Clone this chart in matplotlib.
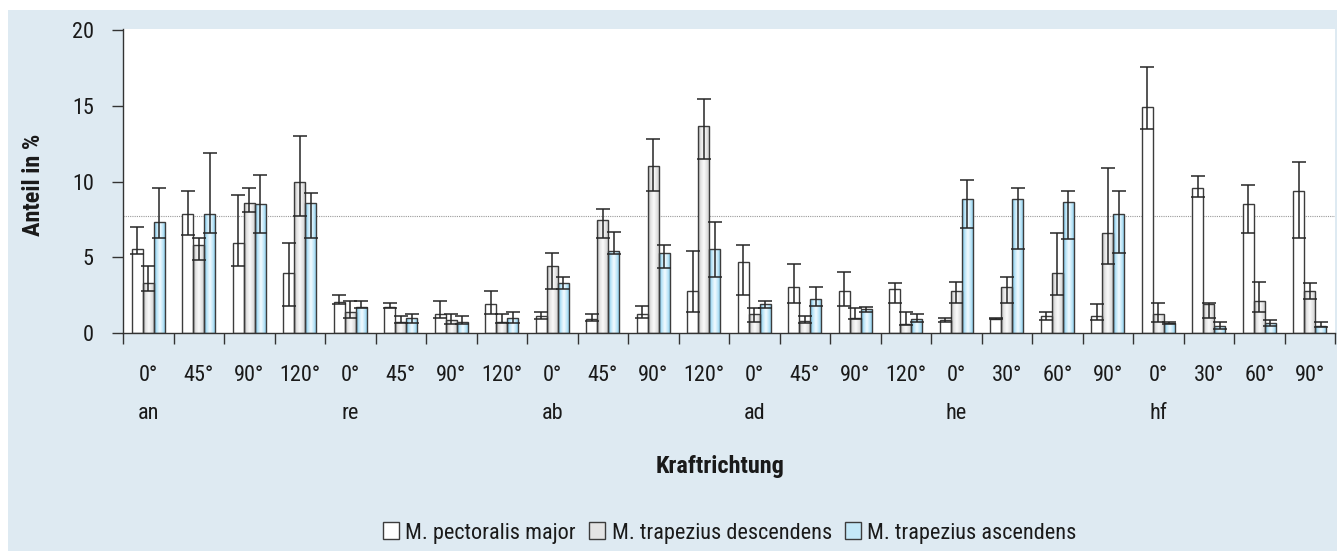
import matplotlib

matplotlib.use("Agg")
import matplotlib.pyplot as plt
import numpy as np
from matplotlib import font_manager
from matplotlib.colors import LinearSegmentedColormap
from matplotlib.patches import Patch, Rectangle


DIRECTIONS = ["an", "re", "ab", "ad", "he", "hf"]
ANGLES = [
    "0°", "45°", "90°", "120°",
    "0°", "45°", "90°", "120°",
    "0°", "45°", "90°", "120°",
    "0°", "45°", "90°", "120°",
    "0°", "30°", "60°", "90°",
    "0°", "30°", "60°", "90°",
]
SERIES = ["M. pectoralis major", "M. trapezius descendens", "M. trapezius ascendens"]

# bar value, lower and upper end of the error bar
PECT = [5.55, 7.83, 5.94, 3.94, 2.07, 1.74, 1.25, 1.89, 1.1, 0.95, 1.25, 2.77,
        4.66, 3.04, 2.77, 2.9, 0.85, 0.95, 1.12, 1.12, 14.94, 9.6, 8.49, 9.35]
PECT_LO = [5.19, 6.45, 4.4, 1.78, 1.9, 1.63, 1.0, 1.25, 0.9, 0.82, 1.0, 1.37,
           2.53, 2.0, 1.78, 2.0, 0.75, 0.9, 0.86, 0.86, 13.44, 9.0, 6.58, 6.3]
PECT_HI = [6.98, 9.35, 9.1, 5.94, 2.5, 2.0, 2.13, 2.77, 1.37, 1.25, 1.78, 5.43,
           5.81, 4.55, 4.05, 3.28, 1.0, 1.0, 1.37, 1.89, 17.58, 10.36, 9.74, 11.26]

DESC = [3.28, 5.8, 8.6, 10.0, 1.37, 0.75, 0.86, 0.75, 4.42, 7.46, 11.02, 13.66,
        1.25, 0.8, 1.0, 0.6, 2.77, 3.04, 3.94, 6.58, 1.25, 1.89, 2.13, 2.77]
DESC_LO = [2.77, 4.8, 8.0, 7.7, 1.0, 0.64, 0.58, 0.64, 2.9, 6.3, 9.37, 11.5,
           0.75, 0.64, 0.9, 0.55, 2.0, 2.0, 2.53, 4.55, 0.75, 1.0, 1.37, 2.26]
DESC_HI = [4.44, 6.3, 9.6, 13.0, 2.13, 1.12, 1.25, 1.25, 5.3, 8.2, 12.78, 15.45,
           1.63, 1.12, 1.63, 1.37, 3.39, 3.67, 6.58, 10.87, 2.0, 2.0, 3.39, 3.28]

ASC = [7.35, 7.83, 8.5, 8.6, 1.74, 1.01, 0.75, 1.01, 3.28, 5.43, 5.3, 5.57,
       1.89, 2.26, 1.58, 0.9, 8.87, 8.87, 8.62, 7.83, 0.64, 0.48, 0.64, 0.48]
ASC_LO = [6.3, 6.58, 6.58, 6.3, 1.63, 0.64, 0.58, 0.64, 2.9, 5.19, 4.31, 3.67,
          1.63, 1.78, 1.37, 0.75, 6.95, 5.57, 6.2, 5.3, 0.58, 0.24, 0.48, 0.4]
ASC_HI = [9.6, 11.9, 10.4, 9.24, 2.13, 1.25, 1.12, 1.37, 3.67, 6.69, 5.81, 7.35,
          2.13, 3.04, 1.74, 1.25, 10.1, 9.6, 9.35, 9.35, 0.75, 0.75, 0.86, 0.75]

REF_LINE = 7.72

W, H = 1337, 551
BG = "#deeaf2"
EDGE = "#3c3c3c"


def pick_font():
    names = {f.name for f in font_manager.fontManager.ttflist}
    for fam in ["Liberation Sans Narrow", "Roboto Condensed", "Open Sans Condensed"]:
        if fam in names:
            return fam, 16
    return "Liberation Sans", 13


FONT, FS = pick_font()
plt.rcParams["font.family"] = [FONT, "DejaVu Sans"]


def gradient_bars(ax, bars, cmap):
    grad = np.linspace(0, 1, 64).reshape(1, -1)
    for p in bars:
        x0, w, h = p.get_x(), p.get_width(), p.get_height()
        im = ax.imshow(grad, cmap=cmap, extent=[x0, x0 + w, 0, h],
                       aspect="auto", zorder=1.5, interpolation="bilinear")
        im.set_clip_path(p)


fig = plt.figure(figsize=(W / 100, H / 100), dpi=100, facecolor="white")
fig.patches.append(Rectangle((8 / W, 0), 1 - 8 / W, 1 - 10 / H,
                             transform=fig.transFigure, facecolor=BG,
                             edgecolor="none", zorder=-10))
ax = fig.add_axes([123 / W, 218 / H, 1212 / W, 304 / H])
ax.set_facecolor("white")

n = len(ANGLES)
x = np.arange(n) + 0.5
bw = 0.22

gray_cm = LinearSegmentedColormap.from_list(
    "g", ["#b4b4b4", "#e6e6e6", "#fafafa", "#e2e2e2", "#c4c4c4"])
blue_cm = LinearSegmentedColormap.from_list(
    "b", ["#6fbfe6", "#bfe6f8", "#f4fbff", "#bfe6f8", "#7cc6ea"])

series = [
    (PECT, PECT_LO, PECT_HI, None),
    (DESC, DESC_LO, DESC_HI, gray_cm),
    (ASC, ASC_LO, ASC_HI, blue_cm),
]
for k, (vals, lo, hi, cm) in enumerate(series):
    vals = np.asarray(vals)
    xs = x + (k - 1) * bw
    face = "white" if cm is None else "none"
    bars = ax.bar(xs, vals, width=bw, facecolor=face, edgecolor=EDGE,
                  linewidth=1.0, zorder=2)
    if cm is not None:
        gradient_bars(ax, bars, cm)
    ax.errorbar(xs, vals, yerr=[vals - np.asarray(lo), np.asarray(hi) - vals],
                fmt="none", ecolor="#262626", elinewidth=1.1, capsize=5,
                capthick=1.1, zorder=3)

ax.axhline(REF_LINE, color="#9a9a9a", linestyle=(0, (1, 1)), linewidth=0.8, zorder=1)

ax.set_xlim(0, n)
ax.set_ylim(0, 304 / 15.15)
ax.set_yticks([0, 5, 10, 15, 20])
ax.tick_params(axis="y", length=8, width=1, color="#333333", pad=13, labelsize=FS,
               labelcolor="#1a1a1a")
ax.set_xticks(x)
ax.set_xticklabels(ANGLES)
ax.set_xticks(np.arange(n + 1), minor=True)
ax.tick_params(axis="x", which="major", length=0, pad=23, labelsize=FS,
               labelcolor="#1a1a1a")
ax.tick_params(axis="x", which="minor", length=8, width=1, color="#333333")
for s in ["top", "right"]:
    ax.spines[s].set_visible(False)
for s in ["left", "bottom"]:
    ax.spines[s].set_color("#333333")
    ax.spines[s].set_linewidth(1.0)

for i, name in enumerate(DIRECTIONS):
    ax.text(x[i * 4], -0.266, name, transform=ax.get_xaxis_transform(),
            ha="center", va="center", fontsize=FS, color="#1a1a1a")

fig.text(33 / W, 1 - 185 / H, "Anteil in %", rotation=90, ha="center",
         va="center", fontsize=FS + 1.5, fontweight="bold", color="#1a1a1a")
fig.text(720 / W, 1 - 467 / H, "Kraftrichtung", ha="center", va="center",
         fontsize=FS + 1.5, fontweight="bold", color="#1a1a1a")

handles = [
    Patch(facecolor="white", edgecolor=EDGE, linewidth=1.0),
    Patch(facecolor="#e4e4e4", edgecolor=EDGE, linewidth=1.0),
    Patch(facecolor="#c4e8f8", edgecolor=EDGE, linewidth=1.0),
]
fig.legend(handles, SERIES, loc="center", bbox_to_anchor=(730 / W, 1 - 533 / H),
           ncol=3, frameon=False, fontsize=FS, handlelength=0.7, handleheight=0.8,
           handletextpad=0.3, columnspacing=0.6, labelcolor="#1a1a1a")

fig.savefig("out.png", dpi=100, facecolor="white")
